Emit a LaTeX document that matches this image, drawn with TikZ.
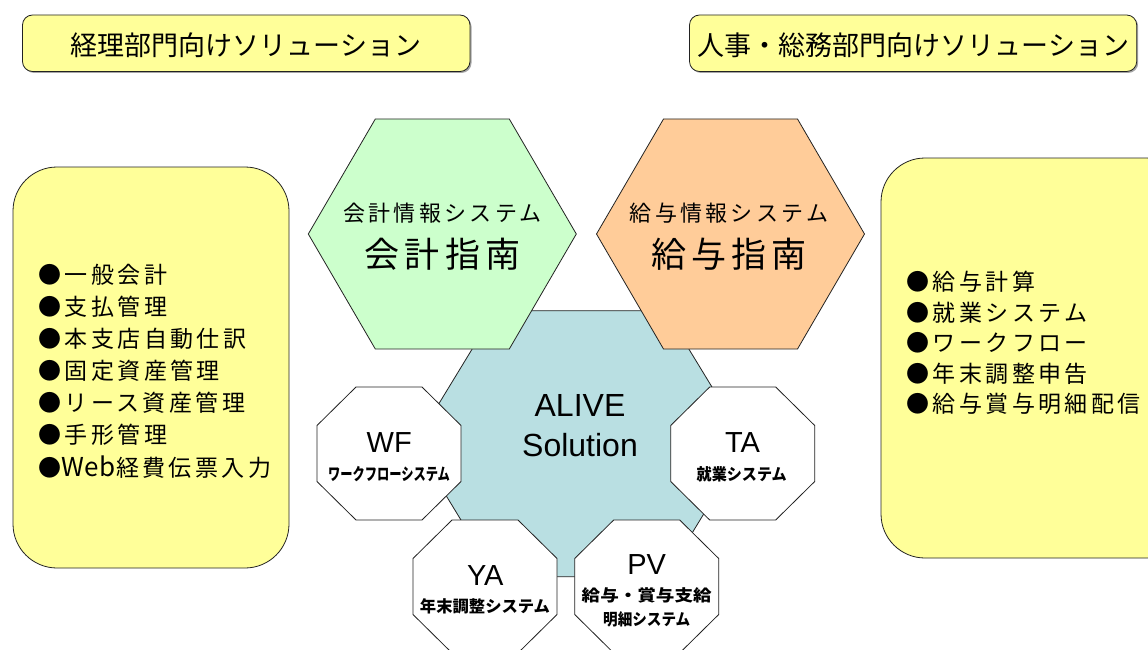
\documentclass[tikz,border=0pt]{standalone}
\usepackage{graphicx}
\usepackage{fontspec}
\setmainfont{Liberation Sans}
\newfontfamily\jp{Noto Sans CJK JP}
\newfontfamily\jpls{Noto Sans CJK JP}[LetterSpace=15]
\definecolor{ylw}{HTML}{FFFF99}
\definecolor{grn}{HTML}{CCFFCC}
\definecolor{org}{HTML}{FFCC99}
\definecolor{blu}{HTML}{B9DFE2}
\definecolor{lne}{HTML}{222222}
\tikzset{
  shp/.style={draw=lne, line width=0.8pt},
  hdrtxt/.style={inner sep=0pt, font=\jp\fontsize{27pt}{27pt}\selectfont},
  listtxt/.style={inner sep=0pt, anchor=west, font=\jpls\fontsize{23pt}{23pt}\selectfont},
  hexsub/.style={inner sep=0pt, font=\jpls\fontsize{22pt}{22pt}\selectfont},
  hexmain/.style={inner sep=0pt, font=\jpls\fontsize{35pt}{35pt}\selectfont},
  big/.style={inner sep=0pt, font=\fontsize{32pt}{32pt}\selectfont},
  code/.style={inner sep=0pt, font=\fontsize{29pt}{29pt}\selectfont},
  small/.style={inner sep=0pt},
}
\newcommand\smtxt[2]{\resizebox*{#1}{15.5pt}{\jp\bfseries #2}}
\newcommand\octpath{(-33,-66.5) -- (33,-66.5) -- (72,-28) -- (72,28) -- (33,66.5) -- (-33,66.5) -- (-72,28) -- (-72,-28) -- cycle}
\begin{document}
\begin{tikzpicture}[x=1pt,y=-1pt]
\useasboundingbox (0,0) rectangle (1148,650);
\clip (0,0) rectangle (1148,650);

% header boxes
\fill[black!35, rounded corners=10pt] (24,16.5) rectangle (471.5,73);
\filldraw[shp, fill=ylw, rounded corners=10pt] (22.5,15) rectangle (470,71.5);
\node[hdrtxt] (h1) at (246,45.7) {経理部門向けソリューション};
\fill[black!35, rounded corners=10pt] (691,16.5) rectangle (1138.2,73);
\filldraw[shp, fill=ylw, rounded corners=10pt] (689.5,15) rectangle (1136.7,71.5);
\node[hdrtxt] (h2) at (913.5,45.7) {人事・総務部門向けソリューション};

% side boxes
\filldraw[shp, fill=ylw, rounded corners=44pt] (13,167) rectangle (289,568);
\filldraw[shp, fill=ylw, rounded corners=44pt] (881,158) rectangle (1190,558);

\node[listtxt] (l1) at (38,275) {●一般会計};
\node[listtxt] (l2) at (38,307) {●支払管理};
\node[listtxt] (l3) at (38,339) {●本支店自動仕訳};
\node[listtxt] (l4) at (38,371) {●固定資産管理};
\node[listtxt] (l5) at (38,403) {●リース資産管理};
\node[listtxt] (l6) at (38,435) {●手形管理};
\node[listtxt] (l7) at (38,467) {●{\fontsize{26pt}{26pt}\selectfont\addfontfeature{LetterSpace=3}Web}経費伝票入力};

\node[listtxt] (r1) at (906,282) {●給与計算};
\node[listtxt] (r2) at (906,312.5) {●就業システム};
\node[listtxt] (r3) at (906,343) {●ワークフロー};
\node[listtxt] (r4) at (906,373.5) {●年末調整申告};
\node[listtxt] (r5) at (906,404) {●給与賞与明細配信};

% central hexagon
\filldraw[shp, fill=blu] (495.5,310.7) -- (665.5,310.7) -- (746.5,443.7) -- (665.5,576.7) -- (495.5,576.7) -- (414.5,443.7) -- cycle;
\node[big] (alive) at (580,405.8) {ALIVE};
\node[big] (sol) at (580,444.8) {Solution};

% top hexagons
\filldraw[shp, fill=grn] (308.3,234) -- (375.3,119) -- (509.3,119) -- (576.3,234) -- (509.3,349) -- (375.3,349) -- cycle;
\node[hexsub] (g1) at (442.5,213) {会計情報システム};
\node[hexmain] (g2) at (442.5,254) {会計指南};
\filldraw[shp, fill=org] (596.5,234) -- (663.5,119) -- (797.5,119) -- (864.5,234) -- (797.5,349) -- (663.5,349) -- cycle;
\node[hexsub] (o1) at (729,213) {給与情報システム};
\node[hexmain] (o2) at (729,254) {給与指南};

% octagons
\filldraw[shp, fill=white, shift={(389,453.5)}] \octpath;
\node[code] (wf) at (389.2,442.5) {WF};
\node[small] (wfs) at (389,474) {\smtxt{122pt}{ワークフローシステム}};

\filldraw[shp, fill=white, shift={(742.7,453.5)}] \octpath;
\node[code] (ta) at (742.5,442.5) {TA};
\node[small] (tas) at (741.7,474) {\smtxt{90pt}{就業システム}};

\filldraw[shp, fill=white, shift={(485,586.5)}] \octpath;
\node[code] (ya) at (485.3,575.8) {YA};
\node[small] (yas) at (485,606.7) {\smtxt{130pt}{年末調整システム}};

\filldraw[shp, fill=white, shift={(646.7,586.5)}] \octpath;
\node[code] (pv) at (646.7,564.2) {PV};
\node[small] (pvs1) at (646.7,595) {\smtxt{130pt}{給与・賞与支給}};
\node[small] (pvs2) at (646.7,619.2) {\smtxt{87pt}{明細システム}};
\end{tikzpicture}
\end{document}
